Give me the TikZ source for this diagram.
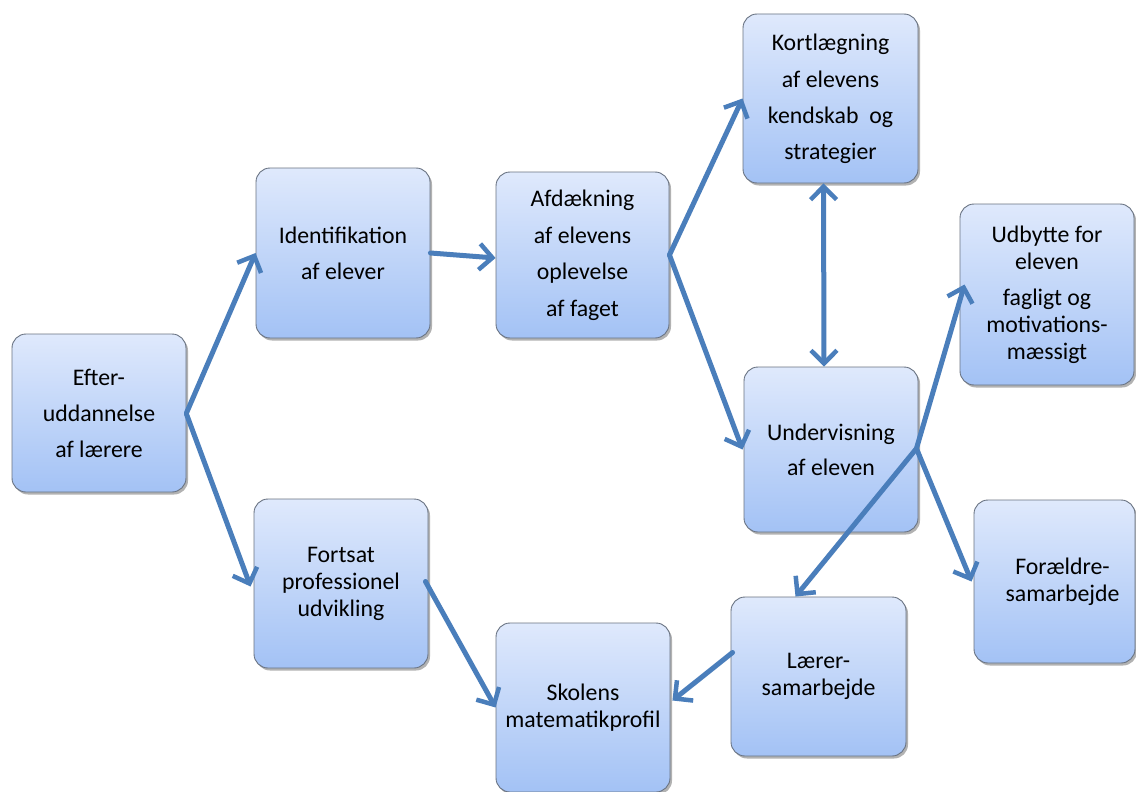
\documentclass[tikz,border=0pt]{standalone}
\usepackage{fontspec}
\setmainfont{Carlito}
\usetikzlibrary{arrows.meta,shadows,calc}
\definecolor{arr}{RGB}{74,126,187}
\definecolor{topc}{RGB}{223,233,252}
\definecolor{botc}{RGB}{163,194,245}
\definecolor{edgec}{RGB}{105,115,130}
\begin{document}
\begin{tikzpicture}[x=1pt,y=-1pt,
  box/.style={draw=edgec, line width=0.9pt, rounded corners=14pt,
    top color=topc, bottom color=botc, inner sep=0pt, align=center,
    font=\fontsize{23.8}{27}\selectfont,
    drop shadow={opacity=0.3, shadow xshift=2pt, shadow yshift=-2.5pt, fill=black}},
  conn/.style={draw=arr, line width=5pt, line cap=round,
    -{Straight Barb[length=13pt,width=26pt,line width=4.5pt]}},
  dconn/.style={draw=arr, line width=5pt,
    {Straight Barb[length=13pt,width=26pt,line width=4.5pt]}-{Straight Barb[length=13pt,width=26pt,line width=4.5pt]}}]
\useasboundingbox (0,0) rectangle (1136,792);
\fill[white] (0,0) rectangle (1136,792);

\node[box, minimum width=174pt, minimum height=158pt] (efter) at (99,413)
  {Efter-\\[9pt]uddannelse\\[9pt]af lærere};
\node[box, minimum width=174pt, minimum height=170pt] (ident) at (343,253)
  {Identifikation\\[9pt]af elever};
\node[box, minimum width=173pt, minimum height=166pt] (afd) at (582.5,255)
  {Afdækning\\[10pt]af elevens\\[9pt]oplevelse\\[10pt]af faget};
\node[box, minimum width=175pt, minimum height=169pt] (kort) at (830.5,98.5)
  {Kortlægning\\[10pt]af elevens\\[9pt]kendskab\ \ og\\[9pt]strategier};
\node[box, minimum width=174pt, minimum height=165pt] (underv) at (831,449.5)
  {Undervisning\\[8pt]af eleven};
\node[box, minimum width=174pt, minimum height=181pt] (udb) at (1047,294.5)
  {Udbytte for\\eleven\\[9pt]fagligt og\\motivations-\\mæssigt};
\node[box, minimum width=161pt, minimum height=163pt] (foraeldre) at (1054.5,581.5)
  {\hspace*{16pt}Forældre-\\\hspace*{16pt}samarbejde};
\node[box, minimum width=174pt, minimum height=169pt] (fortsat) at (341,583.5)
  {Fortsat\\professionel\\udvikling};
\node[box, minimum width=174pt, minimum height=169pt] (skolens) at (583,707.5)
  {Skolens\\matematikprofil};
\node[box, minimum width=175pt, minimum height=159pt] (laerer) at (818.5,676.5)
  {Lærer-\\samarbejde};

\draw[conn] (efter.east) -- (ident.west);
\draw[conn] ([yshift=-1pt]efter.east) -- ([xshift=-3pt,yshift=-3pt]fortsat.west);
\draw[conn] (ident.east) -- ([yshift=-3pt]afd.west);
\draw[conn] (afd.east) -- (kort.west);
\draw[conn] (afd.east) -- ([xshift=-1pt]underv.west);
\draw[dconn] ([xshift=-7pt]kort.south) -- ([xshift=-7pt]underv.north);
\coordinate (hub) at ([xshift=-2pt,yshift=1pt]underv.east);
\coordinate (lt) at ($(laerer.north)+(-23,0)$);
\draw[conn] (hub) -- ($(udb.west)+(5,-10)$);
\draw[conn] (hub) -- ([xshift=-2pt]foraeldre.west);
\draw[conn] (hub) -- (lt);
\draw[conn] ([xshift=-3pt,yshift=2pt]fortsat.east) -- (skolens.west);
\draw[conn] ($(laerer.west)+(2,-24)$) -- ($(skolens.east)+(2,-7)$);
\end{tikzpicture}
\end{document}
